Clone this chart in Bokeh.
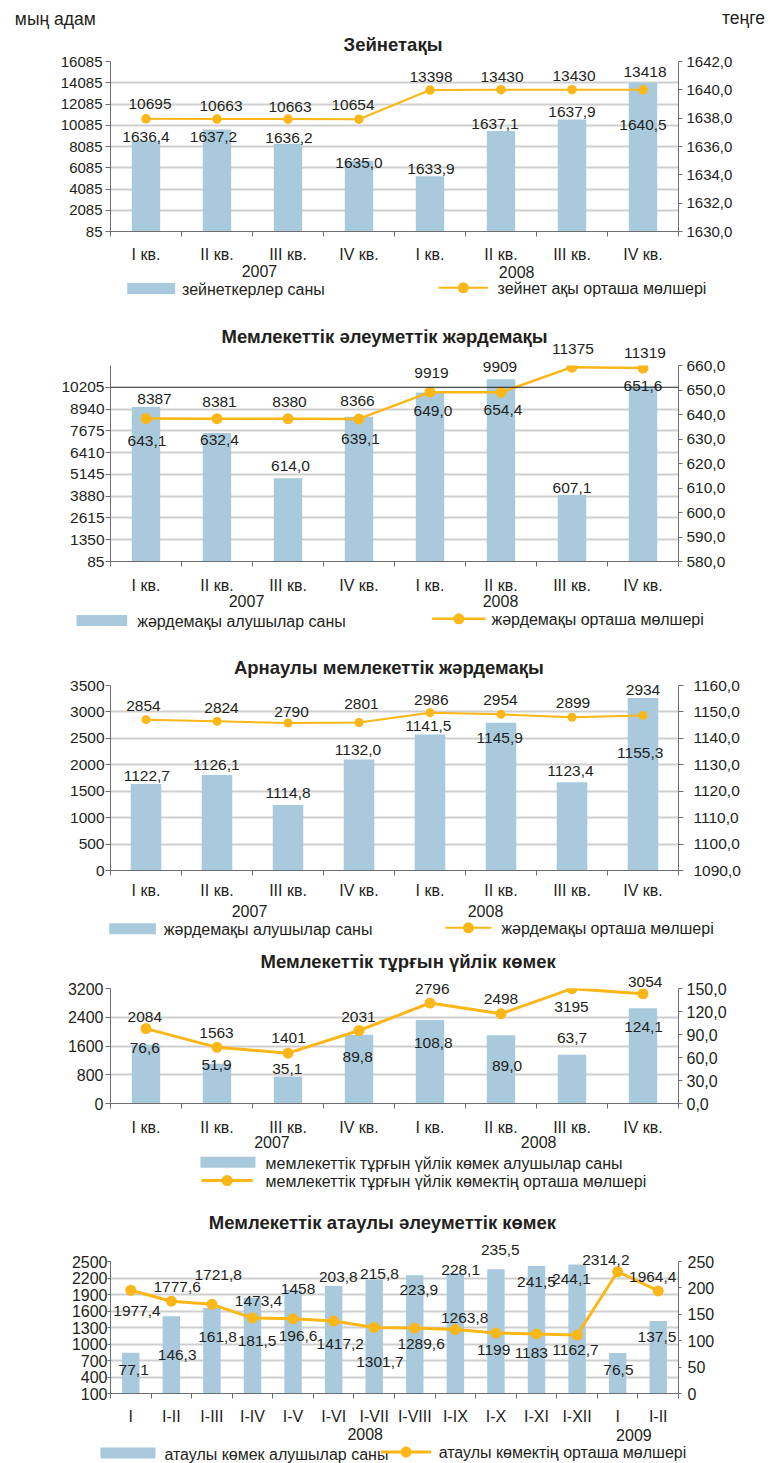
from bokeh.plotting import figure
from bokeh.models import (Range1d, LinearAxis, FixedTicker, CustomJSTickFormatter, Grid,
                          ColumnDataSource, Span)
from bokeh.layouts import column
from bokeh.core.properties import value
from bokeh.embed import file_html
from bokeh.resources import INLINE

FONT = "Liberation Sans"
TXT = "#231f20"
AXC = "#6d6e71"
GRIDC = "#cfcfcf"
BARC = "#a9cadd"
LINEC = "#fbb617"

# ------------------------------------------------------------------ data
quarters = ["I кв.", "II кв.", "III кв.", "IV кв.", "I кв.", "II кв.", "III кв.", "IV кв."]
months = ["I", "I-II", "I-III", "I-IV", "I-V", "I-VI", "I-VII", "I-VIII",
          "I-IX", "I-X", "I-XI", "I-XII", "I", "I-II"]
unit_left = "мың адам"
unit_right = "теңге"

p1_title = "Зейнетақы"
p1_years = ["2007", "2008"]
p1_bar_name = "зейнеткерлер саны"
p1_line_name = "зейнет ақы орташа мөлшері"
p1_bars = [1636.4, 1637.2, 1636.2, 1635.0, 1633.9, 1637.1, 1637.9, 1640.5]
p1_line = [10695, 10663, 10663, 10654, 13398, 13430, 13430, 13418]
p1_left_ticks = [85, 2085, 4085, 6085, 8085, 10085, 12085, 14085, 16085]
p1_left_max = 16085
p1_right_ticks = [1630, 1632, 1634, 1636, 1638, 1640, 1642]

p2_title = "Мемлекеттік әлеуметтік жәрдемақы"
p2_years = ["2007", "2008"]
p2_bar_name = "жәрдемақы алушылар саны"
p2_line_name = "жәрдемақы орташа мөлшері"
p2_bars = [643.1, 632.4, 614.0, 639.1, 649.0, 654.4, 607.1, 651.6]
p2_line = [8387, 8381, 8380, 8366, 9919, 9909, 11375, 11319]
p2_left_ticks = [85, 1350, 2615, 3880, 5145, 6410, 7675, 8940, 10205]
p2_left_max = 11470
p2_right_ticks = [580, 590, 600, 610, 620, 630, 640, 650, 660]

p3_title = "Арнаулы мемлекеттік жәрдемақы"
p3_years = ["2007", "2008"]
p3_bar_name = "жәрдемақы алушылар саны"
p3_line_name = "жәрдемақы орташа мөлшері"
p3_bars = [1122.7, 1126.1, 1114.8, 1132.0, 1141.5, 1145.9, 1123.4, 1155.3]
p3_line = [2854, 2824, 2790, 2801, 2986, 2954, 2899, 2934]
p3_left_ticks = [0, 500, 1000, 1500, 2000, 2500, 3000, 3500]
p3_left_max = 3500
p3_right_ticks = [1090, 1100, 1110, 1120, 1130, 1140, 1150, 1160]

p4_title = "Мемлекеттік тұрғын үйлік көмек"
p4_years = ["2007", "2008"]
p4_bar_name = "мемлекеттік тұрғын үйлік көмек алушылар саны"
p4_line_name = "мемлекеттік тұрғын үйлік көмектің орташа мөлшері"
p4_bars = [76.6, 51.9, 35.1, 89.8, 108.8, 89.0, 63.7, 124.1]
p4_line = [2084, 1563, 1401, 2031, 2796, 2498, 3195, 3054]
p4_left_ticks = [0, 800, 1600, 2400, 3200]
p4_left_max = 3200
p4_right_ticks = [0, 30, 60, 90, 120, 150]

p5_title = "Мемлекеттік атаулы әлеуметтік көмек"
p5_years = ["2008", "2009"]
p5_bar_name = "атаулы көмек алушылар саны"
p5_line_name = "атаулы көмектің орташа мөлшері"
p5_bars = [77.1, 146.3, 161.8, 181.5, 196.6, 203.8, 215.8, 223.9, 228.1, 235.5, 241.5, 244.1, 76.5, 137.5]
p5_line = [1977.4, 1777.6, 1721.8, 1473.4, 1458, 1417.2, 1301.7, 1289.6, 1263.8, 1199, 1183, 1162.7, 2314.2, 1964.4]
p5_left_ticks = [100, 400, 700, 1000, 1300, 1600, 1900, 2200, 2500]
p5_left_max = 2500
p5_right_ticks = [0, 50, 100, 150, 200, 250]

panels_data = [
    dict(title=p1_title, cats=quarters, years=p1_years, bars=p1_bars, line=p1_line,
         lt=p1_left_ticks, lmax=p1_left_max, rt=p1_right_ticks, bname=p1_bar_name, lname=p1_line_name, rdec=1),
    dict(title=p2_title, cats=quarters, years=p2_years, bars=p2_bars, line=p2_line,
         lt=p2_left_ticks, lmax=p2_left_max, rt=p2_right_ticks, bname=p2_bar_name, lname=p2_line_name, rdec=1),
    dict(title=p3_title, cats=quarters, years=p3_years, bars=p3_bars, line=p3_line,
         lt=p3_left_ticks, lmax=p3_left_max, rt=p3_right_ticks, bname=p3_bar_name, lname=p3_line_name, rdec=1),
    dict(title=p4_title, cats=quarters, years=p4_years, bars=p4_bars, line=p4_line,
         lt=p4_left_ticks, lmax=p4_left_max, rt=p4_right_ticks, bname=p4_bar_name, lname=p4_line_name, rdec=1),
    dict(title=p5_title, cats=months, years=p5_years, bars=p5_bars, line=p5_line,
         lt=p5_left_ticks, lmax=p5_left_max, rt=p5_right_ticks, bname=p5_bar_name, lname=p5_line_name, rdec=0),
]

# ------------------------------------------------------------------ layout / style (page pixels)
styles = [
    dict(y0=0, h=305, top=61, fh=170, left=108, fw=572, bw=0.4, lw=2, ms=9.5, tfs="15px",
         lstand=3, ltick=5, rstand=4, rtick=4, xstand=9, span=False,
         title_pos=(392.5, 44.3), year_pos=[(258, 270.7), (517, 271.7)],
         leg_rect=(125, 48, 288, 180), leg_line=(438.3, 50, 287.3, 497.7),
         bdx=[0, -3.5, 1, 0, 1, -6, 0, 0], bdy=[4.3, -7, 5.7, -2, 7.7, 7, 7.3, -42],
         ldx=[4, 4, 2, -6, 1, 1, 2, 2], ldy=[15, 13.6, 12, 14.7, 12.8, 12.5, 14.2, 18.3]),
    dict(y0=305, h=330, top=60, fh=196, left=110, fw=568, bw=0.4, lw=2.5, ms=11, tfs="15.5px",
         lstand=1, ltick=5, rstand=4, rtick=4, xstand=10, span=True,
         title_pos=(384, 335.5), year_pos=[(246, 600), (500, 600)],
         leg_rect=(76, 50.7, 620, 136.7), leg_line=(431.7, 53.3, 618.3, 491),
         bdx=[1, 2.5, 2.5, 1.5, 3, 2, 0, 0], bdy=[-34.3, -6.7, 12, -22, -18.7, -30.6, 6.9, -0.1],
         ldx=[8.5, 2.5, 1.5, -1.5, 1.5, -1, 1, 2], ldy=[19.8, 16.5, 17, 17.5, 19.4, 25.2, 18.3, 15]),
    dict(y0=635, h=310, top=50, fh=185, left=106, fw=575, bw=0.43, lw=2, ms=9, tfs="15.5px",
         lstand=1, ltick=5, rstand=10, rtick=5, xstand=6, span=False,
         title_pos=(387.8, 666.7), year_pos=[(246.7, 910), (485.6, 910)],
         leg_rect=(105, 46.7, 928.3, 160), leg_line=(445, 46.7, 927.3, 501.7),
         bdx=[0.8, -0.5, 0, -1, -1.7, -1.3, -1.5, -2.8], bdy=[7.6, 9.6, 11.8, 10, 7.9, -15, 11.7, -55.3],
         ldx=[-2.6, 4.5, 3.6, 2.4, 1.3, -0.6, 1, 0], ldy=[14.1, 13.4, 10.8, 18.6, 12.2, 13.9, 14.5, 25.6]),
    dict(y0=945, h=250, top=43, fh=115, left=102, fw=591, bw=0.4, lw=3, ms=11, tfs="16px",
         lstand=2, ltick=5, rstand=4, rtick=4, xstand=10, span=False,
         title_pos=(411.7, 960.7), year_pos=[(270, 1141.7), (547.5, 1141.7)],
         leg_rect=(196.7, 55, 1161.7, 263.3), leg_line=(196.7, 53.3, 1180, 263.3),
         bdx=[-1.2, -0.5, -0.7, -1.3, 3.3, 6, 0, 0.6], bdy=[-3.1, -1.5, 7.4, -22.2, -23.4, -30.9, 16.2, -18.5],
         ldx=[-1.2, -0.5, 0.6, -0.6, 2.3, 0, -0.5, 2.2], ldy=[11.7, 14.4, 15.3, 13.6, 14.5, 15.2, -18.2, 11.8]),
    dict(y0=1195, h=268, top=66, fh=132, left=92, fw=611, bw=0.43, lw=3, ms=11, tfs="16px",
         lstand=0, ltick=3, rstand=6, rtick=3, xstand=9, span=False,
         title_pos=(384.5, 1222.3), year_pos=[(366, 1433.3), (655, 1434)],
         leg_rect=(83.3, 55, 1452.5, 150), leg_line=(383, 54, 1451.5, 445),
         bdx=[2.9, 5.8, 5.6, 4.6, 5, 4.7, 5.3, 4, 5.3, 4.4, 0, -5.6, 0.8, -1.2],
         bdy=[-16.9, -38.3, -29.2, -43.7, -46, 8.5, 6, -14.5, 3, 19.1, -16.5, -14.5, -16.6, -15.6],
         ldx=[6.2, 5.8, 6.2, 6, 5, 6.6, 5.7, 6.3, 9.3, -2.3, -5.2, -1.6, -11.8, -5.5],
         ldy=[-20.4, 14.6, 29.4, 16.7, 30, -22.6, -35, -15.6, 11.7, -16.7, -19.2, -14.7, 11.7, 14.3]),
]

FIG_W = 770
TITLE_SIZE = "18.5px"
UNIT_SIZE = "17.5px"
LEGEND_DOT = 11


def num_txt(v):
    return str(v).replace(".", ",")


def make_panel(d, s, first=False):
    n = len(d["cats"])
    xs = list(range(1, n + 1))
    fx0 = s["left"]
    fy1 = s["y0"] + s["top"] + s["fh"]
    lo, hi = d["lt"][0], d["lmax"]

    def dxp(px):  # page x -> data x
        return 0.5 + (px - fx0) / s["fw"] * n

    def dyp(py):  # page y -> data y (left range)
        return lo + (fy1 - py) / s["fh"] * (hi - lo)

    p = figure(width=FIG_W, height=s["h"], x_range=Range1d(0.5, n + 0.5),
               y_range=Range1d(lo, hi),
               x_axis_type=None, y_axis_type=None, output_backend="svg", toolbar_location=None,
               min_border_left=s["left"], min_border_right=FIG_W - s["left"] - s["fw"],
               min_border_top=s["top"], min_border_bottom=s["h"] - s["top"] - s["fh"],
               outline_line_color=None)
    p.extra_y_ranges = {"r": Range1d(d["rt"][0], d["rt"][-1])}

    grid_ticks = d["lt"][:-1] if s["span"] else d["lt"]
    p.add_layout(Grid(dimension=1, ticker=FixedTicker(ticks=grid_ticks),
                      grid_line_color=GRIDC, grid_line_width=2))
    if s["span"]:
        p.add_layout(Span(location=d["lt"][-1], dimension="width", line_color=TXT, line_width=1))

    common = dict(axis_line_color=AXC, major_tick_line_color=AXC, minor_tick_line_color=AXC,
                  major_label_text_color=TXT, major_label_text_font=FONT)
    left = LinearAxis(ticker=FixedTicker(ticks=d["lt"]),
                      formatter=CustomJSTickFormatter(code="return tick.toFixed(0)"),
                      major_tick_in=0, major_tick_out=s["ltick"], major_label_standoff=s["lstand"],
                      major_label_text_font_size=s["tfs"], **common)
    p.add_layout(left, "left")
    rcode = "return tick.toFixed(%d).replace('.', ',')" % d["rdec"]
    right = LinearAxis(y_range_name="r", ticker=FixedTicker(ticks=d["rt"]),
                       formatter=CustomJSTickFormatter(code=rcode),
                       major_tick_in=0, major_tick_out=s["rtick"], major_label_standoff=s["rstand"],
                       major_label_text_font_size=s["tfs"], **common)
    p.add_layout(right, "right")
    bounds = [i + 0.5 for i in range(0, n + 1)]
    bottom = LinearAxis(ticker=FixedTicker(ticks=xs, minor_ticks=bounds),
                        formatter=CustomJSTickFormatter(args=dict(labels=d["cats"]),
                                                        code="return labels[Math.round(tick) - 1]"),
                        major_tick_in=0, major_tick_out=0, minor_tick_in=0, minor_tick_out=5,
                        major_label_standoff=s["xstand"], major_label_text_font_size="16px", **common)
    p.add_layout(bottom, "below")

    src = ColumnDataSource(dict(x=xs, bar=d["bars"], line=d["line"],
                                bar_txt=[num_txt(v) for v in d["bars"]],
                                line_txt=[num_txt(v) for v in d["line"]],
                                bdx=s["bdx"], bdy=[-v for v in s["bdy"]],
                                ldx=s["ldx"], ldy=[-v for v in s["ldy"]]))
    p.vbar(x="x", top="bar", bottom=d["rt"][0], width=s["bw"], y_range_name="r",
           source=src, fill_color=BARC, line_color=None)
    p.line("x", "line", source=src, line_color=LINEC, line_width=s["lw"])
    p.scatter("x", "line", source=src, size=s["ms"], fill_color=LINEC, line_color=None)

    lab = dict(text_align="center", text_baseline="middle", text_font=value(FONT),
               text_font_size=value("15.5px"), text_color=TXT, level="overlay")
    p.text(x="x", y="bar", text="bar_txt", x_offset="bdx", y_offset="bdy",
           y_range_name="r", source=src, **lab)
    p.text(x="x", y="line", text="line_txt", x_offset="ldx", y_offset="ldy", source=src, **lab)

    # texts outside the plotting area
    def put(px, py, text, size="16px", bold=False, align="center"):
        p.text(x=[dxp(px)], y=[dyp(py)], text=[text], text_font=value(FONT),
               text_font_size=value(size), text_font_style="bold" if bold else "normal",
               text_align=align, text_baseline="middle", text_color=TXT, level="overlay")

    put(s["title_pos"][0], s["title_pos"][1], d["title"], size=TITLE_SIZE, bold=True)
    for (px, py), yr in zip(s["year_pos"], d["years"]):
        put(px, py, yr)
    if first:
        put(11.7, 18, unit_left, size=UNIT_SIZE, align="left")
        put(767, 17.5, unit_right, size=UNIT_SIZE, align="right")

    # legend keys
    rl, rw, rcy, rtx = s["leg_rect"]
    p.rect(x=[dxp(rl + rw / 2)], y=[dyp(rcy)], width=rw, height=11, width_units="screen",
           height_units="screen", fill_color=BARC, line_color=None, level="overlay")
    put(rtx, rcy + 1, d["bname"], align="left")
    lx0, lwid, lcy, ltx = s["leg_line"]
    p.line(x=[dxp(lx0), dxp(lx0 + lwid)], y=[dyp(lcy), dyp(lcy)], line_color=LINEC,
           line_width=s["lw"], level="overlay")
    cx = lx0 + lwid / 2
    p.line(x=[dxp(cx - 0.01), dxp(cx + 0.01)], y=[dyp(lcy), dyp(lcy)], line_color=LINEC,
           line_width=LEGEND_DOT, line_cap="round", level="overlay")
    put(ltx, lcy + 0.5, d["lname"], align="left")
    return p


figs = [make_panel(d, s, first=(i == 0)) for i, (d, s) in enumerate(zip(panels_data, styles))]
layout = column(*figs, spacing=0)
open("out.html", "w").write(file_html(layout, INLINE))
